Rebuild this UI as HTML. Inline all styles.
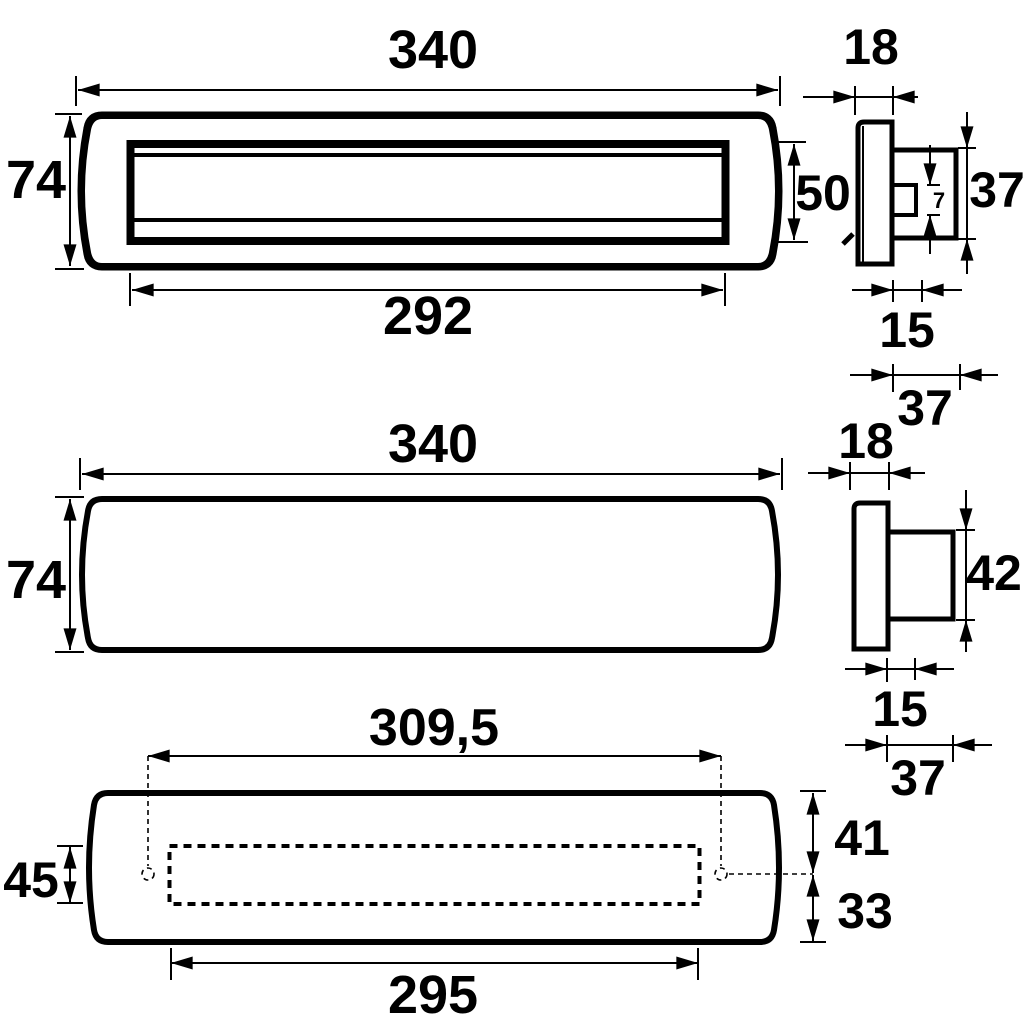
<!DOCTYPE html>
<html><head><meta charset="utf-8"><style>
html,body{margin:0;padding:0;background:#fff}
svg{display:block}
text{font-family:"Liberation Sans",sans-serif;font-weight:bold;fill:#000}
</style></head><body>
<svg width="1024" height="1024" viewBox="0 0 1024 1024" xmlns="http://www.w3.org/2000/svg">
<defs>
<marker id="a" viewBox="0 0 20 12" refX="20" refY="6" markerUnits="userSpaceOnUse" markerWidth="22" markerHeight="13" orient="auto-start-reverse"><path d="M0,0 L20,6 L0,12 z" fill="#000"/></marker>
</defs>
<g fill="none" stroke="#000">
<!-- TOP VIEW -->
<path d="M102,116 L758,116 Q770,116 772,128 Q784,191 772,254 Q770,266 758,266 L102,266 Q90,266 88,254 Q76,191 88,128 Q90,116 102,116 Z" stroke-width="9"/>
<path d="M102,120 L758,120 Q766,120 768,130 Q780,191 768,252 Q766,262 758,262 L102,262 Q94,262 92,252 Q80,191 92,130 Q94,120 102,120 Z" stroke="#fff" stroke-width="2"/>
<rect x="130.5" y="144" width="595" height="97" stroke-width="8"/>
<line x1="133" y1="155" x2="726" y2="155" stroke-width="4"/>
<line x1="133" y1="220" x2="726" y2="220" stroke-width="4"/>
</g>
<g stroke="#000" stroke-width="2" fill="none">
<line x1="78" y1="90" x2="778" y2="90" marker-start="url(#a)" marker-end="url(#a)"/>
<line x1="76" y1="76" x2="76" y2="106"/><line x1="780" y1="76" x2="780" y2="106"/>
<line x1="70" y1="116" x2="70" y2="266" marker-start="url(#a)" marker-end="url(#a)"/>
<line x1="55" y1="114" x2="82" y2="114"/><line x1="55" y1="269" x2="84" y2="269"/>
<line x1="132" y1="290" x2="723" y2="290" marker-start="url(#a)" marker-end="url(#a)"/>
<line x1="130" y1="273" x2="130" y2="306"/><line x1="725" y1="273" x2="725" y2="306"/>
<line x1="794" y1="144" x2="794" y2="240" marker-start="url(#a)" marker-end="url(#a)"/>
<line x1="778" y1="142" x2="806" y2="142"/><line x1="778" y1="242" x2="808" y2="242"/>
</g>
<text x="433" y="68" font-size="54" text-anchor="middle">340</text>
<text x="36" y="198" font-size="54" text-anchor="middle">74</text>
<text x="428" y="334" font-size="54" text-anchor="middle">292</text>
<text x="823" y="210" font-size="50" text-anchor="middle">50</text>

<!-- TOP SIDE VIEW -->
<g fill="none" stroke="#000">
<path d="M892,122 L864,122 Q858,122 858,128 L858,264 L892,264 Z" stroke-width="5"/>
<line x1="863" y1="126" x2="863" y2="262" stroke-width="2"/>
<path d="M843,244 L853,234" stroke-width="5"/>
<path d="M892,150 L956,150 L956,238 L892,238" stroke-width="5"/>
<path d="M892,185 L916,185 L916,215 L892,215" stroke-width="4"/>
</g>
<g stroke="#000" stroke-width="2" fill="none">
<line x1="803" y1="97" x2="855" y2="97" marker-end="url(#a)"/>
<line x1="918" y1="97" x2="893" y2="97" marker-end="url(#a)"/>
<line x1="855" y1="97" x2="893" y2="97"/>
<line x1="855" y1="86" x2="855" y2="115"/><line x1="893" y1="86" x2="893" y2="115"/>
<line x1="930" y1="145" x2="930" y2="185" marker-end="url(#a)"/>
<line x1="930" y1="254" x2="930" y2="215" marker-end="url(#a)"/>
<line x1="927" y1="185" x2="940" y2="185"/><line x1="927" y1="215" x2="940" y2="215"/>
<line x1="967" y1="112" x2="967" y2="148" marker-end="url(#a)"/>
<line x1="967" y1="274" x2="967" y2="239" marker-end="url(#a)"/>
<line x1="967" y1="148" x2="967" y2="239"/>
<line x1="958" y1="148" x2="976" y2="148"/><line x1="958" y1="239" x2="976" y2="239"/>
<line x1="852" y1="290" x2="893" y2="290" marker-end="url(#a)"/>
<line x1="962" y1="290" x2="922" y2="290" marker-end="url(#a)"/>
<line x1="893" y1="290" x2="922" y2="290"/>
<line x1="893" y1="280" x2="893" y2="302"/><line x1="922" y1="280" x2="922" y2="302"/>
<line x1="850" y1="375" x2="893" y2="375" marker-end="url(#a)"/>
<line x1="998" y1="375" x2="960" y2="375" marker-end="url(#a)"/>
<line x1="893" y1="375" x2="960" y2="375"/>
<line x1="893" y1="364" x2="893" y2="392"/><line x1="960" y1="364" x2="960" y2="390"/>
</g>
<text x="871" y="64" font-size="50" text-anchor="middle">18</text>
<text x="939" y="208" font-size="22" text-anchor="middle">7</text>
<text x="997" y="207" font-size="50" text-anchor="middle">37</text>
<text x="907" y="347" font-size="50" text-anchor="middle">15</text>
<text x="925" y="425" font-size="50" text-anchor="middle">37</text>

<!-- MIDDLE VIEW -->
<path d="M102,499 L758,499 Q770,499 772,511 Q784,575 772,638 Q770,650 758,650 L102,650 Q90,650 88,638 Q76,575 88,511 Q90,499 102,499 Z" fill="none" stroke="#000" stroke-width="6"/>
<g stroke="#000" stroke-width="2" fill="none">
<line x1="82" y1="474" x2="780" y2="474" marker-start="url(#a)" marker-end="url(#a)"/>
<line x1="80" y1="458" x2="80" y2="490"/><line x1="782" y1="458" x2="782" y2="490"/>
<line x1="70" y1="499" x2="70" y2="650" marker-start="url(#a)" marker-end="url(#a)"/>
<line x1="55" y1="497" x2="84" y2="497"/><line x1="55" y1="652" x2="84" y2="652"/>
</g>
<text x="433" y="462" font-size="54" text-anchor="middle">340</text>
<text x="36" y="598" font-size="54" text-anchor="middle">74</text>
<g fill="none" stroke="#000" stroke-width="5">
<path d="M888,503 L860,503 Q854,503 854,509 L854,649 L888,649 Z"/>
<path d="M888,532 L953,532 L953,619 L888,619"/>
</g>
<g stroke="#000" stroke-width="2" fill="none">
<line x1="808" y1="473" x2="850" y2="473" marker-end="url(#a)"/>
<line x1="925" y1="473" x2="889" y2="473" marker-end="url(#a)"/>
<line x1="850" y1="473" x2="889" y2="473"/>
<line x1="850" y1="462" x2="850" y2="490"/><line x1="889" y1="462" x2="889" y2="490"/>
<line x1="966" y1="490" x2="966" y2="530" marker-end="url(#a)"/>
<line x1="966" y1="652" x2="966" y2="620" marker-end="url(#a)"/>
<line x1="966" y1="530" x2="966" y2="620"/>
<line x1="956" y1="530" x2="975" y2="530"/><line x1="956" y1="620" x2="975" y2="620"/>
<line x1="845" y1="669" x2="887" y2="669" marker-end="url(#a)"/>
<line x1="954" y1="669" x2="915" y2="669" marker-end="url(#a)"/>
<line x1="887" y1="669" x2="915" y2="669"/>
<line x1="887" y1="658" x2="887" y2="682"/><line x1="915" y1="658" x2="915" y2="680"/>
<line x1="845" y1="745" x2="887" y2="745" marker-end="url(#a)"/>
<line x1="992" y1="745" x2="953" y2="745" marker-end="url(#a)"/>
<line x1="887" y1="745" x2="953" y2="745"/>
<line x1="887" y1="735" x2="887" y2="762"/><line x1="953" y1="735" x2="953" y2="762"/>
</g>
<text x="866" y="458" font-size="50" text-anchor="middle">18</text>
<text x="994" y="590" font-size="50" text-anchor="middle">42</text>
<text x="900" y="726" font-size="50" text-anchor="middle">15</text>
<text x="918" y="795" font-size="50" text-anchor="middle">37</text>

<!-- BOTTOM VIEW -->
<path d="M108,793 L760,793 Q772,793 774,805 Q784,868 774,930 Q772,942 760,942 L108,942 Q96,942 94,930 Q84,868 94,805 Q96,793 108,793 Z" fill="none" stroke="#000" stroke-width="6"/>
<rect x="169.5" y="846" width="530" height="58" fill="none" stroke="#000" stroke-width="4" stroke-dasharray="8,6"/>
<g stroke="#000" stroke-width="1.6" fill="none" stroke-dasharray="5,4">
<circle cx="148" cy="874" r="6"/><circle cx="721" cy="874" r="6"/>
<line x1="148" y1="756" x2="148" y2="866"/><line x1="721" y1="756" x2="721" y2="866"/>
<line x1="729" y1="874" x2="813" y2="874"/>
</g>
<g stroke="#000" stroke-width="2" fill="none">
<line x1="148" y1="756" x2="721" y2="756" marker-start="url(#a)" marker-end="url(#a)"/>
<line x1="171" y1="963" x2="698" y2="963" marker-start="url(#a)" marker-end="url(#a)"/>
<line x1="171" y1="948" x2="171" y2="980"/><line x1="698" y1="948" x2="698" y2="980"/>
<line x1="70" y1="847" x2="70" y2="903" marker-start="url(#a)" marker-end="url(#a)"/>
<line x1="57" y1="846" x2="83" y2="846"/><line x1="57" y1="903" x2="83" y2="903"/>
<line x1="813" y1="793" x2="813" y2="873" marker-start="url(#a)" marker-end="url(#a)"/>
<line x1="813" y1="875" x2="813" y2="941" marker-start="url(#a)" marker-end="url(#a)"/>
<line x1="800" y1="791" x2="826" y2="791"/><line x1="800" y1="942" x2="826" y2="942"/>
</g>
<text x="434" y="745" font-size="52" text-anchor="middle">309,5</text>
<text x="31" y="897" font-size="50" text-anchor="middle">45</text>
<text x="433" y="1013" font-size="54" text-anchor="middle">295</text>
<text x="862" y="855" font-size="50" text-anchor="middle">41</text>
<text x="865" y="928" font-size="50" text-anchor="middle">33</text>
</svg>
</body></html>
